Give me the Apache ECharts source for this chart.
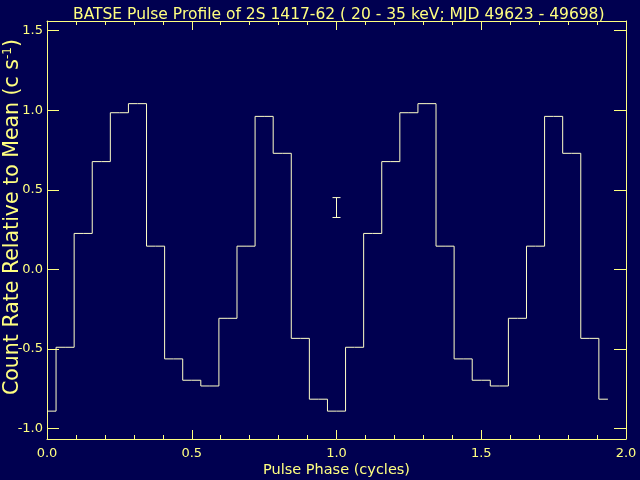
<!DOCTYPE html>
<html>
<head>
<meta charset="utf-8">
<script src="https://cdn.jsdelivr.net/npm/echarts@6/dist/echarts.min.js"></script>
<style>
html,body{margin:0;padding:0;background:#000050;}
#c{width:640px;height:480px;}
</style>
</head>
<body>
<div id="c"></div>
<script>
// Pulse phase of each bin (cycles)
const phase = [0.0, 0.0625, 0.125, 0.1875, 0.25, 0.3125, 0.375, 0.4375,
  0.5, 0.5625, 0.625, 0.6875, 0.75, 0.8125, 0.875, 0.9375,
  1.0, 1.0625, 1.125, 1.1875, 1.25, 1.3125, 1.375, 1.4375,
  1.5, 1.5625, 1.625, 1.6875, 1.75, 1.8125, 1.875, 1.9375];
// Count rate relative to mean (c s^-1)
const rate = [-0.890, -0.489, 0.226, 0.677, 0.984, 1.041, 0.146, -0.562,
  -0.696, -0.732, -0.307, 0.146, 0.961, 0.729, -0.433, -0.815,
  -0.890, -0.489, 0.226, 0.677, 0.984, 1.041, 0.146, -0.562,
  -0.696, -0.732, -0.307, 0.146, 0.961, 0.729, -0.433, -0.815];
// Representative error bar
const errPhase = [1.0];
const errLow = [0.326];
const errHigh = [0.451];
// Tick labels
const yTicks = [-1.0, -0.5, 0.0, 0.5, 1.0, 1.5];
const xTicks = [0.0, 0.5, 1.0, 1.5, 2.0];

const AX = '#ffff80';
const LN = '#ffffc8';
const FONT = 'DejaVu Sans';

const chart = echarts.init(document.getElementById('c'), null, {renderer: 'canvas'});

const baseX = {
  type: 'value', min: 0, max: 2, interval: 0.5,
  axisLine: {show: true, onZero: false, lineStyle: {color: AX, width: 1}},
  axisTick: {show: true, inside: true, length: 9, lineStyle: {color: AX}},
  minorTick: {show: true, splitNumber: 5, length: 4, lineStyle: {color: AX}},
  splitLine: {show: false},
  minorSplitLine: {show: false}
};
const baseY = {
  type: 'value', min: -1.065, max: 1.56,
  axisLine: {show: true, onZero: false, lineStyle: {color: AX, width: 1}},
  axisTick: {show: true, inside: true, length: 12, customValues: yTicks, lineStyle: {color: AX}},
  splitLine: {show: false}
};

chart.setOption({
  backgroundColor: '#000050',
  animation: false,
  title: {
    text: 'BATSE Pulse Profile of 2S 1417-62 ( 20 - 35 keV; MJD 49623 - 49698)',
    left: 68, top: 2,
    textStyle: {color: AX, fontFamily: FONT, fontWeight: 'normal', fontSize: 15.5}
  },
  grid: {left: 47, right: 14, top: 21, bottom: 41, containLabel: false, outerBoundsMode: 'none'},
  xAxis: [
    Object.assign({}, baseX, {
      position: 'bottom',
      name: 'Pulse Phase (cycles)', nameLocation: 'middle', nameGap: 24, nameMoveOverlap: false,
      nameTextStyle: {color: AX, fontFamily: FONT, fontSize: 14.5},
      axisLabel: {show: true, color: AX, fontFamily: FONT, fontSize: 13, margin: 8,
        customValues: xTicks, formatter: v => v.toFixed(1)}
    }),
    Object.assign({}, baseX, {position: 'top', axisLabel: {show: false}})
  ],
  yAxis: [
    Object.assign({}, baseY, {
      position: 'left',
      name: 'Count Rate Relative to Mean (c s{sup|-1})',
      nameLocation: 'middle', nameGap: 24, nameRotate: 90, nameMoveOverlap: false,
      nameTextStyle: {color: AX, fontFamily: FONT, fontSize: 20.5, padding: [0, 0, 0, 26],
        rich: {sup: {color: AX, fontFamily: FONT, fontSize: 12, verticalAlign: 'top', padding: [0, 0, 9, 0]}}},
      axisLabel: {show: true, color: AX, fontFamily: FONT, fontSize: 13, margin: 4,
        customValues: yTicks, formatter: v => v.toFixed(1)}
    }),
    Object.assign({}, baseY, {position: 'right', axisLabel: {show: false}})
  ],
  series: [
    {
      type: 'line', xAxisIndex: 0, yAxisIndex: 0,
      step: 'middle', showSymbol: false, symbol: 'none',
      lineStyle: {color: LN, width: 1},
      data: phase.map((p, i) => [p, rate[i]])
    },
    {
      type: 'custom', xAxisIndex: 0, yAxisIndex: 0,
      data: errPhase.map((p, i) => [p, errLow[i], errHigh[i]]),
      renderItem: function (params, api) {
        const top = api.coord([api.value(0), api.value(2)]);
        const bot = api.coord([api.value(0), api.value(1)]);
        const hw = 4;
        const st = {stroke: LN, lineWidth: 1};
        return {type: 'group', children: [
          {type: 'line', shape: {x1: top[0], y1: top[1], x2: bot[0], y2: bot[1]}, style: st},
          {type: 'line', shape: {x1: top[0] - hw, y1: top[1], x2: top[0] + hw, y2: top[1]}, style: st},
          {type: 'line', shape: {x1: bot[0] - hw, y1: bot[1], x2: bot[0] + hw, y2: bot[1]}, style: st}
        ]};
      }
    }
  ]
});
</script>
</body>
</html>
